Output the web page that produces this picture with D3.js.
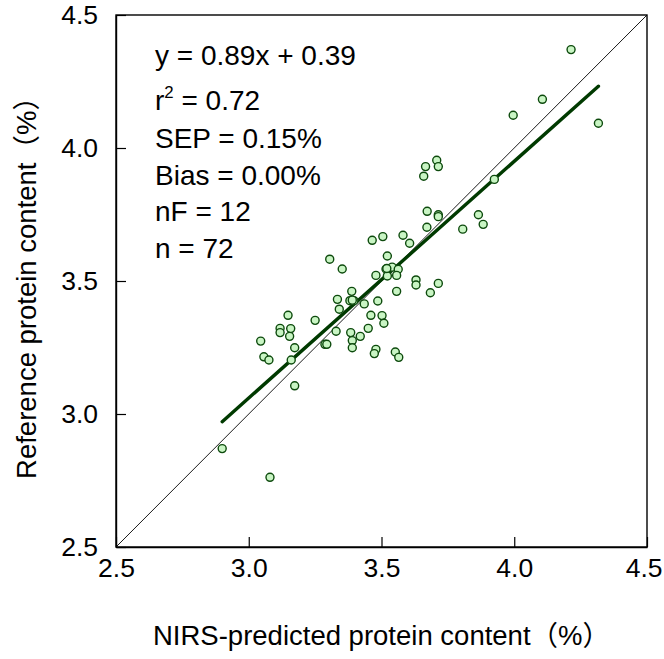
<!DOCTYPE html>
<html>
<head>
<meta charset="utf-8">
<script src="https://cdn.jsdelivr.net/npm/d3@7"></script>
<style>
  html, body { margin: 0; padding: 0; background: #fff; }
  svg { display: block; }
  text { font-family: "Liberation Sans", Arial, "Noto Sans CJK SC", sans-serif; fill: #000; }
</style>
</head>
<body>
<svg id="chart" width="664" height="659"></svg>
<script>
// ---- data ----
const predicted = [
  4.214, 4.106, 3.996, 4.317, 3.708, 3.666, 3.714, 3.659, 3.925, 3.672,
  3.714, 3.714, 3.671, 3.806, 3.865, 3.883, 3.505, 3.581, 3.606, 3.522,
  3.517, 3.540, 3.563, 3.522, 3.557, 3.630, 3.630, 3.714, 3.557, 3.684,
  3.305, 3.352, 3.479, 3.388, 3.334, 3.381, 3.396, 3.435, 3.486, 3.341,
  3.148, 3.250, 3.460, 3.502, 3.509, 3.118, 3.118, 3.158, 3.154, 3.329,
  3.384, 3.450, 3.420, 3.390, 3.390, 3.287, 3.294, 3.045, 3.173, 3.479,
  3.473, 3.552, 3.565, 3.057, 3.076, 3.160, 3.173, 2.900, 3.080, 3.465,
  3.520, 3.390
];
const reference = [
  4.370, 4.183, 4.123, 4.093, 3.954, 3.930, 3.930, 3.894, 3.882, 3.762,
  3.749, 3.742, 3.702, 3.695, 3.749, 3.713, 3.667, 3.672, 3.642, 3.594,
  3.545, 3.552, 3.544, 3.519, 3.521, 3.504, 3.485, 3.491, 3.461, 3.456,
  3.582, 3.545, 3.521, 3.461, 3.431, 3.426, 3.426, 3.414, 3.425, 3.394,
  3.371, 3.352, 3.371, 3.370, 3.341, 3.322, 3.306, 3.321, 3.292, 3.311,
  3.306, 3.322, 3.292, 3.276, 3.249, 3.262, 3.262, 3.274, 3.249, 3.243,
  3.227, 3.233, 3.213, 3.215, 3.203, 3.203, 3.106, 2.870, 2.762, 3.653,
  3.547, 3.428
];
const slope = 0.89;
const intercept = 0.39;
const xTicks = [2.5, 3.0, 3.5, 4.0, 4.5];
const yTicks = [2.5, 3.0, 3.5, 4.0, 4.5];
const axisDomain = [2.5, 4.5];
const statLines = ["y = 0.89x + 0.39", "r2 = 0.72", "SEP = 0.15%", "Bias = 0.00%", "nF = 12", "n = 72"];
const xTitle = "NIRS-predicted protein content\uFF08%\uFF09";
const yTitle = "Reference protein content\uFF08%\uFF09";

(function () {
// ---- layout ----
const svg = d3.select("#chart");
const pL = 116, pR = 647, pT = 15, pB = 547;
const x = d3.scaleLinear().domain(axisDomain).range([pL, pR]);
const y = d3.scaleLinear().domain(axisDomain).range([pB, pT]);
const fsTick = 26.5, fsNote = 28, fsTitle = 27.5;

// frame
svg.append("rect")
  .attr("x", pL).attr("y", pT)
  .attr("width", pR - pL).attr("height", pB - pT)
  .attr("fill", "none").attr("stroke", "#000").attr("stroke-width", 1.4);

// axes
const xAxis = d3.axisBottom(x).tickValues(xTicks).tickFormat(d3.format(".1f"))
  .tickSizeInner(-10).tickSizeOuter(0).tickPadding(11);
const gx = svg.append("g").attr("transform", `translate(0,${pB})`).call(xAxis);
const yAxis = d3.axisLeft(y).tickValues(yTicks).tickFormat(d3.format(".1f"))
  .tickSizeInner(-10).tickSizeOuter(0).tickPadding(18);
const gy = svg.append("g").attr("transform", `translate(${pL},0)`).call(yAxis);
[gx, gy].forEach(g => {
  g.selectAll("path.domain").attr("stroke", "#000").attr("stroke-width", 1.4);
  g.selectAll(".tick line").attr("stroke", "#000").attr("stroke-width", 1.2);
  g.selectAll(".tick text").attr("font-size", fsTick).attr("fill", "#000")
    .style("font-family", '"Liberation Sans", Arial, sans-serif');
});
// keep the last x tick label fully inside the window
gx.selectAll(".tick text").filter(d => d === xTicks[xTicks.length - 1])
  .attr("text-anchor", "end").attr("dx", 15);

// 1:1 line
svg.append("line")
  .attr("x1", x(axisDomain[0])).attr("y1", y(axisDomain[0]))
  .attr("x2", x(axisDomain[1])).attr("y2", y(axisDomain[1]))
  .attr("stroke", "#000").attr("stroke-width", 0.9);

// regression line across data range
const xmin = d3.min(predicted), xmax = d3.max(predicted);
svg.append("line")
  .attr("x1", x(xmin)).attr("y1", y(slope * xmin + intercept))
  .attr("x2", x(xmax)).attr("y2", y(slope * xmax + intercept))
  .attr("stroke", "#003a00").attr("stroke-width", 3.4).attr("stroke-linecap", "round");

// points
svg.append("g").selectAll("circle")
  .data(predicted.map((p, i) => [p, reference[i]]))
  .join("circle")
  .attr("cx", d => x(d[0])).attr("cy", d => y(d[1]))
  .attr("r", 4)
  .attr("fill", "#c9f5c4").attr("stroke", "#0d4a0d").attr("stroke-width", 1.4);

// statistics text
const baselines = [65, 110, 148, 185, 221, 258];
statLines.forEach((s, i) => {
  const t = svg.append("text").attr("x", 155).attr("y", baselines[i]).attr("font-size", fsNote);
  if (s.startsWith("r2")) {
    t.append("tspan").text("r");
    t.append("tspan").text("2").attr("font-size", fsNote * 0.6).attr("dy", -12);
    t.append("tspan").text(s.slice(2)).attr("dy", 12);
  } else {
    t.text(s);
  }
});

// axis titles
svg.append("text").attr("x", (pL + pR) / 2).attr("y", 645)
  .attr("text-anchor", "middle").attr("font-size", fsTitle).text(xTitle);
svg.append("text")
  .attr("transform", `translate(36,${(pT + pB) / 2}) rotate(-90)`)
  .attr("text-anchor", "middle").attr("font-size", fsTitle).text(yTitle);
})();
</script>
</body>
</html>
